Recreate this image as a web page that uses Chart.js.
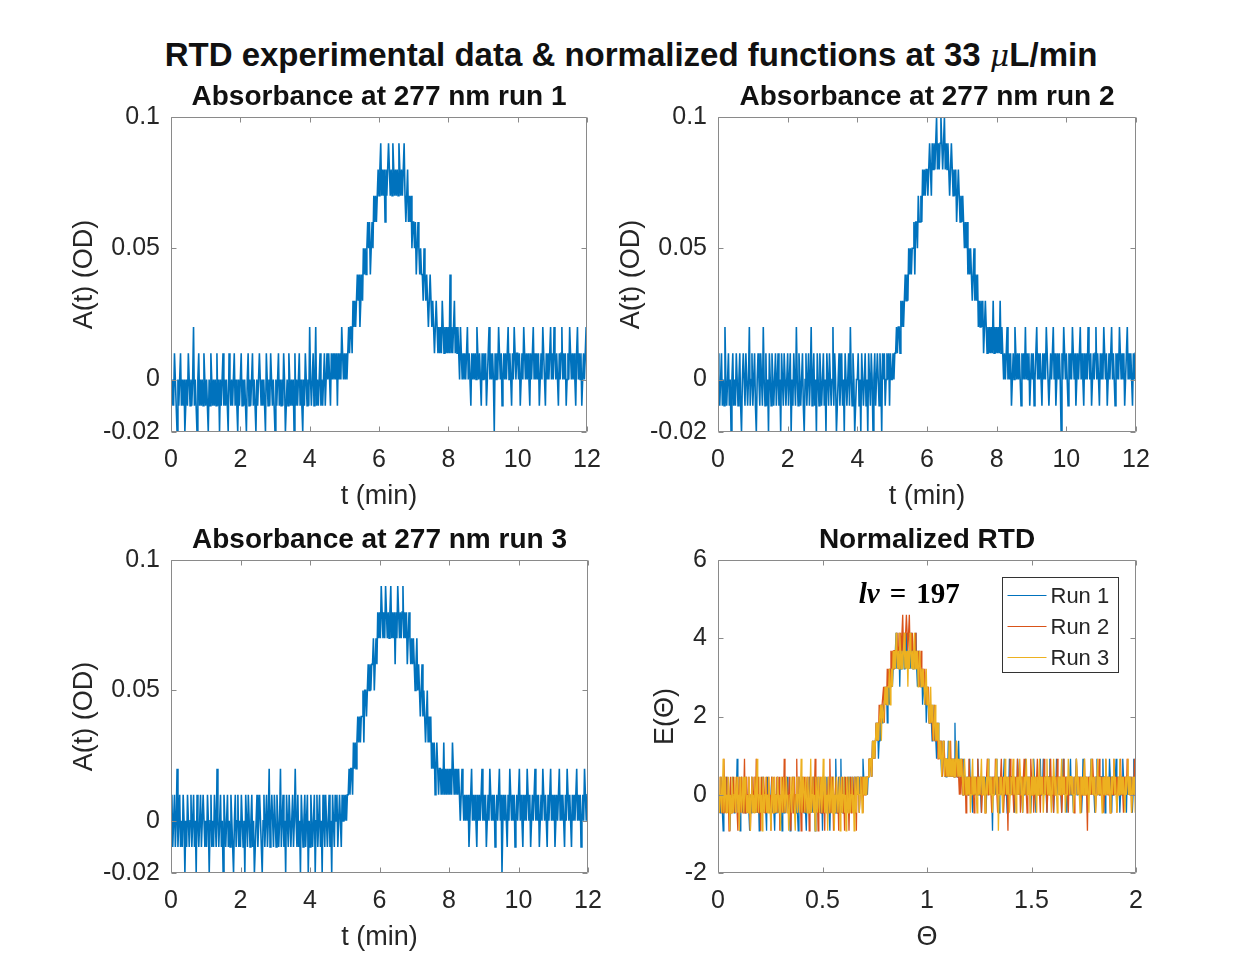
<!DOCTYPE html>
<html>
<head>
<meta charset="utf-8">
<script src="https://cdn.jsdelivr.net/npm/chart.js@4.4.0/dist/chart.umd.min.js"></script>
<style>
  body { margin: 0; background: #fff; width: 1244px; height: 972px; position: relative; overflow: hidden;
         font-family: 'Liberation Sans', Arial, sans-serif; }
  #suptitle { position: absolute; left: 0; width: 1262px; top: 36px; line-height: 38px; text-align: center;
              font-weight: bold; font-size: 33px; color: #111; }
  #suptitle .mu { font-family: 'DejaVu Serif', serif; font-style: italic; font-weight: normal; font-size: 30px; }
  canvas { position: absolute; }
</style>
</head>
<body>
<div id="suptitle">RTD experimental data &amp; normalized functions at 33 <span class="mu">μ</span>L/min</div>
<canvas id="c1"></canvas>
<canvas id="c2"></canvas>
<canvas id="c3"></canvas>
<canvas id="c4"></canvas>
<script>
// sampling of the detector traces
const sampleStep = 0.025;  // min between samples
const tau = 7.1;           // mean residence time (min), theta = t / tau
const eScale = 46;         // E(theta) per OD unit after normalisation

// absorbance readings in units of 0.01 OD, one line per min (t = 0 ... 14.2 min)
const run1 = [
  0,-1,0,-1,1,0,-1,-2,0,-1, 0,1,-1,0,-1,0,-2,-1,0,-1, 1,0,-1,0,-1,0,2,-1,0,-1, -2,0,1,-1,0,-1,0,-1,1,0,
  -1,0,-1,-2,0,-1,1,0,-1,0, -1,0,-1,1,-1,0,-2,0,-1,0, 1,-1,0,-1,0,-1,-2,1,0,-1, 0,-1,0,1,-1,0,-1,-2,0,-1,
  0,1,-1,0,-1,0,-1,-2,0,1, -1,0,-1,0,1,-1,0,-1,-2,0, -1,0,1,0,-1,0,-1,0,-1,-2, 1,0,-1,0,-1,1,0,-1,0,-1,
  -2,0,-1,0,1,-1,0,-1,0,-1, 1,0,-2,-1,0,-1,1,0,-1,0, -1,0,-2,1,-1,0,-1,0,1,-1, 0,-1,-2,0,-1,1,0,-1,0,-1,
  2,0,-1,0,1,-1,0,2,-1,0, -1,0,1,-1,0,-1,0,1,-1,0, 1,0,1,0,-1,1,0,1,0,1, 0,1,-1,1,0,1,0,2,1,0,
  1,0,1,0,1,2,1,2,2,1,3,2, 3,2,3,4,3,4,2,3,4,3,5,4, 5,4,5,6,5,6,4,5,6,5,7,6, 7,6,7,8,
  7,8,9,7,8,7,8,6,8,7, 8,9,8,7,8,7,9,8,7,8, 7,8,7,9,8,7,8,7,8,9, 7,6,7,8,6,7,6,7,5,6,
  6,5,6,4,5,6,5,4,5,4, 4,3,5,4,3,4,3,2,3,4, 3,2,3,2,1,2,3,2,1,2, 1,2,1,3,2,1,2,1,2,1,
  2,1,4,1,2,1,2,3,1,2, 1,2,1,0,2,1,0,1,0,1, 0,1,2,0,1,0,-1,1,0,1, 0,1,0,2,1,0,1,0,-1,1,
  0,1,0,1,-1,0,1,2,0,1, 0,1,0,-2,1,0,1,0,2,1, 0,1,-1,0,1,0,1,0,1,2, 0,1,0,-1,1,0,2,1,0,1,
  1,0,1,-1,0,1,0,2,1,0, 1,0,1,0,-1,1,0,1,2,0, 1,0,1,0,1,-1,0,1,0,2, 1,0,-1,1,0,1,0,1,2,0,
  1,0,2,1,0,1,0,-1,1,0, 1,2,0,1,0,1,-1,0,1,0, 2,1,0,1,0,1,0,-1,1,2, 0,1,0,1,-1,0,1,0,1,2,
  0,1,0,-1,1,0,1,2,0,1, 0,1,0,1,-1,0,2,1,0,1, 0,1,-1,0,1,0,1,2,0,1, 1,0,-1,0,1,2,0,1,0,1,
  1,0,1,2,0,1,-1,0,1,0, 1,0,2,1,0,-1,1,0,1,0, 1,2,0,1,0,1,-1,0,1,0, 2,1,0,1,0,-1,1,0,1,0,
  1,0,1,-1,0,2,1,0,1
];
const run2 = [
  1,0,-1,0,1,-1,0,-1,2,0, -1,0,1,-1,0,-2,0,1,-1,0, -1,1,0,-1,0,1,-1,-2,0,1, 0,-1,1,0,-1,0,2,-1,0,1,
  -1,0,1,-1,-2,0,1,0,-1,1, 0,-1,2,0,-1,1,-1,0,-2,1, 0,-1,1,0,-1,0,1,-1,0,1, -1,0,-2,1,0,-1,1,0,-1,0,
  1,-1,0,1,-2,0,-1,1,0,-1, 2,0,-1,1,0,-1,0,1,-1,-2, 0,1,-1,0,1,-1,0,2,-1,0, 1,-1,0,-2,1,0,-1,1,0,-1,
  0,1,-1,0,-2,1,0,-1,1,0, -1,0,2,-1,1,0,-2,-1,0,1, -1,0,1,-1,0,-2,1,0,-1,0, 1,-1,2,0,-1,1,0,-2,-1,0,
  0,1,-1,0,-2,1,0,-1,0,1, -1,0,-2,1,0,-1,1,0,-2,0, 1,-1,0,1,0,-1,1,0,-2,1, 0,1,-1,0,1,0,1,-1,1,0,
  0,1,0,1,1,2,1,2,2,1,3,2, 3,2,3,4,3,4,3,5,4,5,4,5, 5,6,4,6,6,5,7,6,6,7,6,8, 7,8,7,8,
  8,7,8,9,8,7,9,8,9,8, 9,10,8,9,8,9,10,9,8,9, 10,8,9,8,9,8,7,8,9,8, 7,8,7,8,6,7,8,7,6,7,
  6,7,6,5,6,5,6,4,5,4, 5,4,3,4,5,3,4,3,4,2, 3,2,3,2,3,1,2,3,2,1, 2,1,2,1,2,1,3,1,2,1,
  2,1,2,1,3,1,2,1,0,1, 0,1,2,0,1,0,1,-1,0,1, 0,2,1,0,1,0,1,0,-1,1, 0,1,0,2,0,1,0,1,-1,0,
  1,0,1,-1,0,1,2,0,1,0, 1,0,-1,1,0,1,0,2,1,0, -1,0,1,0,1,2,0,1,-1,0, 1,0,1,0,-2,1,0,2,1,0,
  1,0,-1,1,0,1,0,2,1,0, 1,-1,0,1,0,1,2,0,1,0, -1,1,0,1,0,2,1,0,1,-1, 0,1,0,1,2,0,1,0,-1,1,
  0,1,0,2,1,0,1,-1,0,1, 0,1,2,0,1,0,-1,1,0,1, 0,2,1,0,1,0,1,-1,0,1, 2,0,1,0,1,0,-1,1,0,1,
  1,0,1,0,-1,1,0,2,1,0, 1,0,1,-1,0,1,0,1,2,0, 1,0,-2,1,0,1,0,1,0,2, 1,0,1,-1,0,1,0,1,2,0,
  0,1,0,1,-1,0,1,2,0,1, 0,1,0,-1,1,0,1,0,2,1, 0,1,-1,0,1,0,1,2,0,1, 0,-1,1,0,1,0,2,1,0,1,
  0,1,-1,0,1,0,2,1,0
];
const run3 = [
  0,1,-1,0,1,-1,0,2,-1,0, 1,-1,0,-1,1,0,-2,0,-1,1, 0,-1,0,1,-1,0,1,-1,0,-2, 1,0,-1,0,1,-1,0,1,0,-1,
  0,-1,1,0,-2,0,1,-1,0,-1, 1,0,-1,2,0,-1,0,1,-1,0, -2,1,0,-1,0,1,-1,0,-1,1, 0,-1,-2,0,1,-1,0,1,-1,0,
  -1,1,0,-1,0,-2,1,0,-1,1, 0,-1,0,1,-1,0,-2,-1,0,1, -1,0,1,0,-1,-2,0,1,-1,0, 1,-1,0,2,-1,0,1,0,-1,1,
  0,-1,1,0,-1,0,2,-1,0,1, -1,0,-2,1,0,-1,1,0,-1,0, 1,-1,0,2,0,-1,1,-1,0,-2, 1,0,-1,0,1,-1,0,1,-2,0,
  -1,1,0,-1,0,1,-2,0,1,-1, 0,1,-1,0,-2,1,0,-1,1,0, -1,0,1,-1,0,-2,1,0,-1,1, 0,1,-1,0,1,0,-1,1,0,1,
  0,1,0,1,1,2,1,2,2,1,3,2, 3,2,3,4,3,4,3,4,4,5,3,5, 5,4,5,6,5,6,5,6,6,7,5,6, 7,6,8,7,
  8,7,9,8,7,8,7,9,8,7, 8,7,8,9,7,8,7,8,6,8, 7,9,8,7,8,7,8,9,7,8, 7,8,6,7,8,7,6,7,6,7,
  6,5,6,7,5,6,5,4,5,6, 4,5,4,3,4,5,3,4,3,4, 2,3,2,3,1,2,3,2,1,2, 2,1,2,1,3,1,2,1,2,1,
  2,1,2,1,3,2,1,2,1,2, 1,2,1,0,1,2,1,0,1,0, 1,0,1,-1,0,1,2,0,1,0, 1,0,-1,1,0,1,0,1,2,0,
  1,0,1,-1,0,1,0,2,1,0, 1,0,1,-1,0,1,0,1,2,0, 1,-2,0,1,0,1,0,-1,1,0, 2,1,0,1,0,1,-1,0,1,0,
  1,2,0,1,0,-1,1,0,1,0, 2,1,0,1,-1,0,1,0,1,2, 0,1,0,1,-1,0,1,0,2,1, 0,1,0,-1,1,0,1,2,0,1,
  0,1,-1,0,1,0,1,2,0,1, 0,1,0,-1,1,0,2,1,0,1, 0,-1,1,0,1,0,1,2,0,1, 0,1,-1,0,1,0,2,1,0,1,
  1,0,1,-1,0,1,0,2,1,0, 1,0,-1,1,0,1,0,1,2,0, 1,0,1,0,-1,1,0,2,1,0, 1,0,1,-1,0,1,2,0,1,0,
  1,0,-1,1,0,1,0,2,1,0, 1,0,1,-1,0,1,0,1,2,0, 1,0,-1,0,1,0,2,1,0,1, 0,1,0,-1,1,0,1,2,0,1,
  0,1,-1,0,1,0,1,-1,0
];

const runLabels = ['Run 1', 'Run 2', 'Run 3'];
const runTitles = ['Absorbance at 277 nm run 1', 'Absorbance at 277 nm run 2', 'Absorbance at 277 nm run 3'];
const timeTicks = [0, 2, 4, 6, 8, 10, 12];
const absTicks = [-0.02, 0, 0.05, 0.1];
const thetaTicks = [0, 0.5, 1, 1.5, 2];
const eTicks = [-2, 0, 2, 4, 6];
const lvLabel = { x: 0.915, y: 5.1, text: '197' };

const runColors = ['#0072BD', '#D95319', '#EDB120'];
const textColor = '#262626';
const boxColor = '#8a8a8a';

Chart.defaults.font.family = "'Liberation Sans', Arial, Helvetica, sans-serif";
Chart.defaults.color = textColor;

// plot-area boxes, in page pixels
const panels = [
  { id: 'c1', left: 171, top: 117, w: 416, h: 315 },
  { id: 'c2', left: 718, top: 117, w: 418, h: 315 },
  { id: 'c3', left: 171, top: 560, w: 417, h: 313 },
  { id: 'c4', left: 718, top: 560, w: 418, h: 313 }
];
const AXW = 110, TITLEH = 40, XAXH = 82, PADR = 20;

// matlab style box with inward ticks on all four sides
const axesBox = {
  id: 'axesBox',
  afterDatasetsDraw(chart) {
    const { ctx, chartArea: a, scales: { x, y } } = chart;
    const L = Math.round(a.left) + 0.5, R = Math.round(a.right) - 0.5;
    const T = Math.round(a.top) + 0.5, B = Math.round(a.bottom) - 0.5;
    ctx.save();
    ctx.strokeStyle = boxColor;
    ctx.lineWidth = 1;
    ctx.beginPath();
    x.ticks.forEach(t => {
      const px = Math.round(x.getPixelForValue(t.value)) + 0.5;
      ctx.moveTo(px, T); ctx.lineTo(px, T + 5);
      ctx.moveTo(px, B); ctx.lineTo(px, B - 5);
    });
    y.ticks.forEach(t => {
      const py = Math.round(y.getPixelForValue(t.value)) + 0.5;
      ctx.moveTo(L, py); ctx.lineTo(L + 5, py);
      ctx.moveTo(R, py); ctx.lineTo(R - 5, py);
    });
    ctx.moveTo(L, T); ctx.lineTo(R, T); ctx.lineTo(R, B); ctx.lineTo(L, B); ctx.closePath();
    ctx.stroke();
    ctx.restore();
  }
};

// legend box and the lv label of the normalized panel
const rtdExtras = {
  id: 'rtdExtras',
  afterDraw(chart) {
    const { ctx, chartArea: a, scales: { x, y } } = chart;
    ctx.save();
    // lv = 197
    const cx = x.getPixelForValue(lvLabel.x), cy = y.getPixelForValue(lvLabel.y);
    const fItal = "italic bold 29px 'Liberation Serif', 'DejaVu Serif', serif";
    const fBold = "bold 29px 'Liberation Serif', 'DejaVu Serif', serif";
    const parts = [['lv', fItal], ['=', fBold], [lvLabel.text, fBold]];
    const gap = 10;
    let total = -gap;
    parts.forEach(p => { ctx.font = p[1]; total += ctx.measureText(p[0]).width + gap; });
    let px = cx - total / 2;
    ctx.fillStyle = '#000';
    ctx.textBaseline = 'middle';
    ctx.textAlign = 'left';
    parts.forEach(p => { ctx.font = p[1]; ctx.fillText(p[0], px, cy); px += ctx.measureText(p[0]).width + gap; });

    // legend
    const bw = 116, bh = 95;
    const bx = Math.round(a.right - 18 - bw) + 0.5, by = Math.round(a.top + 17) + 0.5;
    ctx.fillStyle = '#fff';
    ctx.fillRect(bx, by, bw, bh);
    ctx.strokeStyle = '#333';
    ctx.lineWidth = 1;
    ctx.strokeRect(bx, by, bw, bh);
    ctx.font = "22px 'Liberation Sans', Arial, sans-serif";
    chart.data.datasets.forEach((ds, i) => {
      const ry = by + 18 + i * 31;
      ctx.strokeStyle = ds.borderColor;
      ctx.beginPath();
      ctx.moveTo(bx + 5, ry); ctx.lineTo(bx + 44, ry);
      ctx.stroke();
      ctx.fillStyle = textColor;
      ctx.fillText(ds.label, bx + 48, ry + 1);
    });
    ctx.restore();
  }
};

function series(levels, toX, toY) {
  return levels.map((v, i) => ({ x: toX(i * sampleStep), y: toY(v) }));
}

function fixedTicks(list) {
  return s => { s.ticks = list.map(v => ({ value: v })); };
}

function makeChart(p, datasets, o) {
  const cv = document.getElementById(p.id);
  cv.width = AXW + p.w + PADR;
  cv.height = TITLEH + p.h + XAXH;
  cv.style.left = (p.left - AXW) + 'px';
  cv.style.top = (p.top - TITLEH) + 'px';
  return new Chart(cv, {
    type: 'line',
    data: { datasets },
    options: {
      responsive: false,
      animation: false,
      devicePixelRatio: 1,
      layout: { padding: { left: 0, right: PADR, top: 0, bottom: 0 } },
      elements: { point: { radius: 0 }, line: { borderWidth: o.lineWidth, tension: 0 } },
      plugins: {
        legend: { display: false },
        tooltip: { enabled: false },
        title: {
          display: true, text: o.title, color: '#111', fullSize: false,
          font: { size: 28, weight: 'bold' },
          padding: { top: 3, bottom: 3.4 }
        }
      },
      scales: {
        x: {
          type: 'linear', min: o.xMin, max: o.xMax,
          afterBuildTicks: fixedTicks(o.xTicks),
          afterFit: s => { s.height = XAXH; s.paddingLeft = 0; s.paddingRight = 0; },
          grid: { display: false, drawTicks: false },
          border: { display: false },
          ticks: { font: { size: 25 }, padding: 13, maxRotation: 0, callback: v => String(v) },
          title: { display: true, text: o.xTitle, font: { size: 27 }, padding: { top: 0, bottom: 0.8 } }
        },
        y: {
          type: 'linear', min: o.yMin, max: o.yMax,
          afterBuildTicks: fixedTicks(o.yTicks),
          afterFit: s => { s.width = AXW; s.paddingTop = 0; s.paddingBottom = 0; },
          grid: { display: false, drawTicks: false },
          border: { display: false },
          ticks: { font: { size: 25 }, padding: 11, callback: v => String(v) },
          title: { display: true, text: o.yTitle, font: { size: 27 }, padding: { top: o.yTitlePad, bottom: 0 } }
        }
      }
    },
    plugins: o.extras ? [axesBox, o.extras] : [axesBox]
  });
}

const absRuns = [run1, run2, run3];

absRuns.forEach((run, i) => {
  makeChart(panels[i], [{
    label: runLabels[i],
    data: series(run, t => t, v => v / 100),
    borderColor: runColors[0]
  }], {
    title: runTitles[i], lineWidth: 1.6,
    xMin: 0, xMax: 12, xTicks: timeTicks, xTitle: 't (min)',
    yMin: -0.02, yMax: 0.1, yTicks: absTicks, yTitle: 'A(t) (OD)', yTitlePad: 7
  });
});

makeChart(panels[3], absRuns.map((run, i) => ({
  label: runLabels[i],
  data: series(run, t => t / tau, v => v / 100 * eScale),
  borderColor: runColors[i],
  order: 2 - i
})), {
  title: 'Normalized RTD', lineWidth: 1.3,
  xMin: 0, xMax: 2, xTicks: thetaTicks, xTitle: 'Θ',
  yMin: -2, yMax: 6, yTicks: eTicks, yTitle: 'E(Θ)', yTitlePad: 41,
  extras: rtdExtras
});
</script>
</body>
</html>
